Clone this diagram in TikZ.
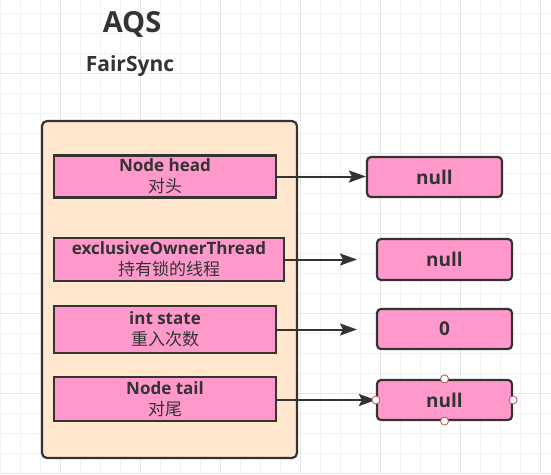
\documentclass[tikz,border=0pt]{standalone}
\usepackage{fontspec}
\setmainfont{Open Sans}
\newfontfamily\cjk{Noto Sans CJK SC}
\usetikzlibrary{arrows.meta}
\definecolor{ink}{HTML}{333333}
\definecolor{pinkfill}{HTML}{FF99CC}
\definecolor{peach}{HTML}{FFE6CC}
\definecolor{gridminor}{HTML}{F2F2F2}
\definecolor{gridmajor}{HTML}{E6E6E6}
\definecolor{gripred}{HTML}{B85450}
\begin{document}
\begin{tikzpicture}[x=1pt,y=-1pt,
    fieldbox/.style={draw=ink, line width=2.2pt, fill=pinkfill, text=ink,
        align=center, inner sep=0pt, minimum width=222pt,
        font=\fontsize{17}{21}\selectfont},
    valbox/.style={draw=ink, line width=2.2pt, fill=pinkfill, text=ink,
        rounded corners=4pt, inner sep=0pt, minimum width=135pt, minimum height=40pt,
        font=\bfseries\fontsize{19}{19}\selectfont},
    link/.style={draw=ink, line width=2pt,
        -{Stealth[length=17pt,width=12pt,inset=3pt]}},
    grip/.style={circle, draw=gripred, fill=white, line width=0.8pt,
        inner sep=0pt, minimum size=8pt}]

    \useasboundingbox (0,0) rectangle (551,474);
    \fill[white] (0,0) rectangle (551,474);

    % grid
    \foreach \gx in {0,20,...,540} \draw[gridminor, line width=1pt] (\gx,0) -- (\gx,474);
    \foreach \gy in {13.5,33.5,...,473.5} \draw[gridminor, line width=1pt] (0,\gy) -- (551,\gy);
    \foreach \gx in {60,140,...,540} \draw[gridmajor, line width=1pt] (\gx,0) -- (\gx,474);
    \foreach \gy in {73.5,153.5,...,473.5} \draw[gridmajor, line width=1pt] (0,\gy) -- (551,\gy);

    % titles
    \node[text=ink, inner sep=0pt, anchor=base, font=\bfseries\fontsize{29}{29}\selectfont] (aqs) at (132,32) {AQS};
    \node[text=ink, inner sep=0pt, anchor=base, font=\bfseries\fontsize{21}{21}\selectfont] (fair) at (130,71.5) {FairSync};

    % container
    \node[draw=ink, line width=2.2pt, fill=peach, rounded corners=5pt,
        minimum width=255pt, minimum height=337pt] (sync) at (169.5,289.5) {};

    % fields
    \node[fieldbox, minimum height=42pt] (head) at (165,176.5) {\textbf{Node head}\\{\cjk 对头}};
    \node[fieldbox, minimum width=230pt, minimum height=43pt] (owner) at (169,259.5) {\textbf{exclusiveOwnerThread}\\{\cjk 持有锁的线程}};
    \node[fieldbox, minimum height=47pt] (state) at (165,329.5) {\textbf{int state}\\{\cjk 重入次数}};
    \node[fieldbox, minimum height=44pt] (tail) at (165,399) {\textbf{Node tail}\\{\cjk 对尾}};

    % values
    \node[valbox] (nullhead) at (434.5,177) {null};
    \node[valbox, minimum height=41pt] (nullowner) at (444.5,259.5) {null};
    \node[valbox] (zerostate) at (444.5,329) {0};
    \node[valbox] (nulltail) at (444.5,400) {null};

    \coordinate (ownerend) at (357,259.5);
    \coordinate (stateend) at (357,329.5);

    \path[link] (head.east) -- (head.east -| nullhead.west);
    \path[link] (owner.east) -- (ownerend);
    \path[link] (state.east) -- (stateend);
    \path[link] (tail.east |- nulltail.west) -- (nulltail.west);

    % selection grips
    \foreach \side in {north,south,east,west}
        \node[grip] (grip-\side) at (nulltail.\side) {};

\end{tikzpicture}
\end{document}
